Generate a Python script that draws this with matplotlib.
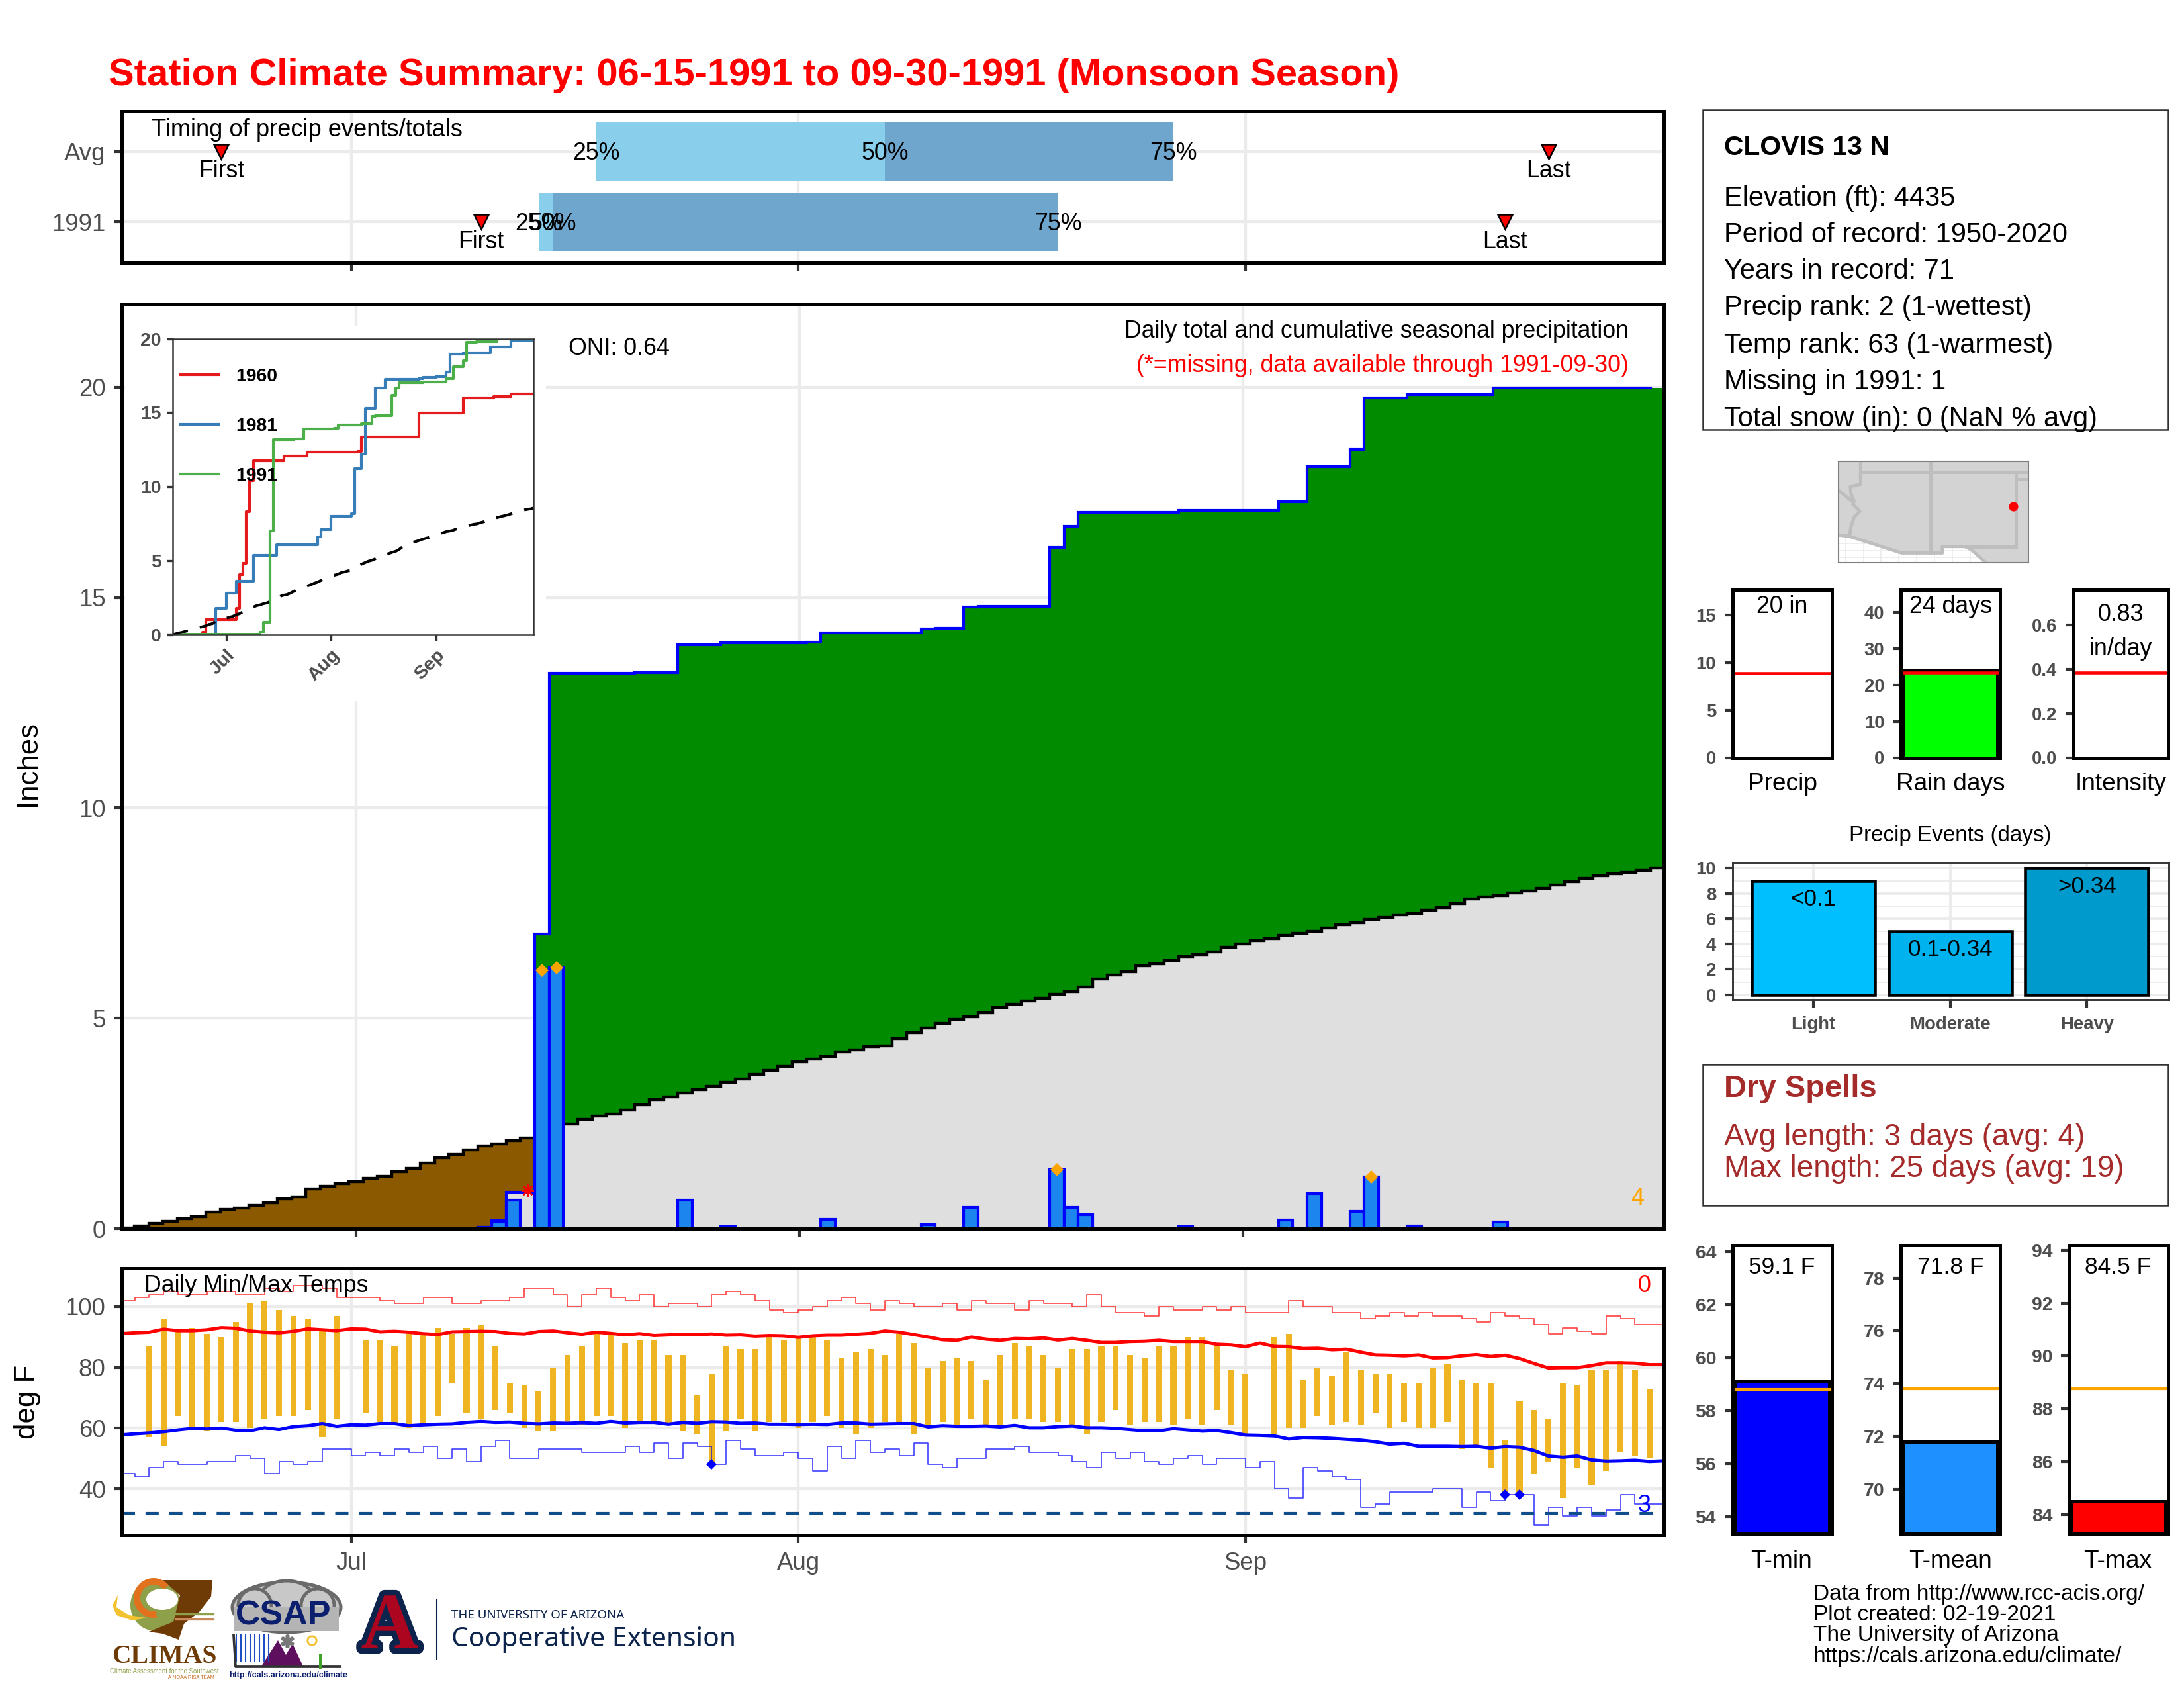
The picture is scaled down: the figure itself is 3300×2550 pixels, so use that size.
import numpy as np
import matplotlib
matplotlib.use('Agg')
from matplotlib import pyplot as plt
from matplotlib import patheffects as pe
from matplotlib.patches import Rectangle, Ellipse, Polygon, Wedge

W, H = 3300, 2550
plt.rcParams['font.family'] = ['Liberation Sans', 'DejaVu Sans']
plt.rcParams['xtick.color'] = '#333333'
plt.rcParams['ytick.color'] = '#333333'
plt.rcParams['xtick.labelcolor'] = '#4D4D4D'
plt.rcParams['ytick.labelcolor'] = '#4D4D4D'

nan = np.nan
# days are counted from Jun 15 = 0
month_ticks = [16, 47, 78]
month_labels = ['Jul', 'Aug', 'Sep']
days = np.arange(108)

avg_cum = [.01, .06, .13, .17, .24, .29, .39, .45, .49, .55, .61, .71, .76, .94, 1.0, 1.07, 1.12, 1.19, 1.25, 1.36,
           1.43, 1.56, 1.69, 1.76, 1.87, 1.97, 2.02, 2.10, 2.15, 2.25, 2.38, 2.49, 2.60, 2.68, 2.72, 2.82, 2.94, 3.07,
           3.13, 3.22, 3.30, 3.38, 3.48, 3.56, 3.67, 3.76, 3.86, 3.97, 4.03, 4.09, 4.20, 4.25, 4.32, 4.35, 4.51, 4.65,
           4.77, 4.87, 4.97, 5.03, 5.13, 5.26, 5.34, 5.41, 5.48, 5.57, 5.63, 5.75, 5.93, 6.02, 6.10, 6.25, 6.30, 6.37,
           6.46, 6.52, 6.58, 6.69, 6.76, 6.85, 6.89, 6.97, 7.01, 7.06, 7.15, 7.22, 7.27, 7.34, 7.40, 7.46, 7.49, 7.57,
           7.63, 7.72, 7.83, 7.89, 7.91, 7.98, 8.03, 8.09, 8.16, 8.24, 8.32, 8.38, 8.43, 8.47, 8.51, 8.58]
rain_days = [25, 26, 27, 29, 30, 36, 39, 42, 48, 49, 56, 57, 59, 60, 65, 66, 67, 74, 81, 83, 86, 87, 90, 96]
rain_vals = [.03, .16, .68, 6.13, 6.20, .01, .67, .04, .02, .22, .10, .01, .50, .02, 1.40, .50, .33, .05, .21, .83,
             .41, 1.23, .07, .16]
big_rain_days = [29, 30, 65, 87]
missing_day = 28

tmax = [nan, nan, 87, 96, 92, 93, 91, 90, 95, 101, 102, 99, 97, 96, 92, 97, nan,
        89, 89, 87, 91, 91, 93, 91, 93, 94, 87, 75, 74, 72, 80, 84, 87, 91, 91, 88, 89, 89, 84, 84, 71, 78,
        87, 86, 86, 90, 89, 90, 90, 89, 83, 85, 86, 84, 91, 88,
        80, 82, 83, 82, 76, 84, 88, 87, 84, 80, 86, 86, 87, 87, 84, 83, 87, 87, 90, 90, 87, 79, 78, nan,
        90, 91, 76, 80, 77, 85, 79, 78, 78, 75, 75, 80, 81, 76, 75, 75, 56, 69, 66, 63, 75, 74, 79, 79, 82, 79, 73, nan]
tmin = [nan, nan, 57, 54, 64, 60, 59, 62, 62, 60, 63, 64, 64, 66, 57, 63, nan,
        65, 62, 61, 60, 61, 64, 75, 65, 63, 66, 65, 60, 59, 59, 62, 61, 64, 64, 60, 62, 62, 61, 59, 58, 48,
        59, 63, 59, 62, 62, 60, 62, 64, 60, 58, 60, 62, 62, 58,
        61, 62, 61, 63, 61, 61, 63, 63, 62, 62, 61, 58, 62, 66, 61, 62, 62, 61, 63, 61, 66, 61, 58, nan,
        58, 60, 60, 64, 61, 62, 61, 65, 60, 62, 60, 60, 62, 53, 54, 47, 38, 38, 45, 49, 37, 47, 41, 46, 52, 51, 50, nan]
avg_hi = [91.1, 91.4, 91.6, 92.6, 92.1, 92.1, 92.4, 93.1, 92.9, 92.0, 91.6, 91.4, 91.9, 92.7, 92.4, 92.1, 92.7, 92.6,
          91.7, 91.9, 91.6, 91.1, 90.8, 91.7, 91.8, 91.9, 91.8, 91.2, 91.0, 91.8, 92.0, 91.4, 90.9, 91.6, 91.2, 90.7,
          91.1, 90.5, 90.7, 90.8, 90.8, 91.0, 90.6, 90.7, 90.3, 90.5, 90.4, 89.9, 90.4, 90.6, 90.6, 90.9, 91.2, 92.0,
          91.6, 90.8, 90.0, 89.1, 88.9, 90.0, 89.3, 88.9, 89.5, 89.4, 89.7, 89.0, 89.5, 88.9, 88.2, 88.2, 88.5, 88.6,
          88.9, 88.5, 88.5, 88.5, 87.6, 87.4, 86.8, 88.0, 86.9, 86.8, 86.2, 86.3, 85.8, 86.0, 85.0, 84.1, 84.0, 83.8,
          84.1, 83.1, 83.2, 83.8, 84.2, 83.6, 84.0, 82.9, 81.3, 79.8, 79.9, 79.9, 80.6, 81.5, 81.5, 81.4, 80.9, 80.9]
avg_lo = [57.7, 58.1, 58.4, 58.8, 59.4, 59.9, 59.7, 60.0, 59.3, 59.1, 60.1, 59.5, 60.5, 60.8, 61.5, 60.6, 61.1, 61.0,
          61.5, 61.5, 60.8, 61.1, 61.3, 61.4, 61.9, 62.2, 61.9, 62.0, 61.6, 61.4, 61.7, 61.6, 61.8, 61.6, 62.2, 61.7,
          61.9, 61.9, 61.3, 61.9, 61.6, 62.1, 62.0, 61.6, 61.7, 61.3, 61.3, 61.2, 61.3, 61.2, 61.7, 61.7, 61.3, 61.4,
          61.5, 61.5, 60.4, 60.8, 60.6, 60.6, 60.7, 60.4, 60.9, 60.1, 60.1, 60.5, 60.7, 60.1, 60.1, 59.9, 59.5, 59.1,
          59.1, 59.8, 59.4, 59.0, 59.2, 58.5, 57.7, 57.6, 57.4, 56.4, 56.9, 56.8, 56.6, 56.3, 56.0, 55.5, 54.7, 55.0,
          54.0, 54.0, 54.0, 53.9, 54.0, 53.4, 53.9, 53.7, 52.6, 50.8, 50.4, 50.8, 49.5, 49.1, 49.2, 49.4, 49.0, 49.2]
rec_hi = [102, 103, 104, 105, 104, 104, 105, 105, 104, 104, 106, 105, 107, 107, 106, 103, 103, 103, 102, 101, 101, 103,
          103, 101, 101, 102, 102, 103, 106, 106, 104, 100, 104, 106, 103, 102, 104, 100, 101, 101, 100, 104, 105, 104,
          102, 99, 98, 99, 100, 102, 103, 101, 99, 102, 101, 100, 100, 101, 99, 102, 101, 101, 99, 102, 101, 101, 100,
          104, 100, 98, 98, 97, 100, 99, 99, 100, 99, 100, 98, 98, 98, 102, 100, 100, 98, 98, 96, 97, 98, 97, 98, 97,
          97, 96, 95, 98, 97, 96, 94, 91, 93, 92, 91, 97, 96, 94, 94, 94]
rec_lo = [45, 44, 47, 49, 48, 48, 49, 49, 51, 50, 45, 49, 48, 49, 53, 53, 51, 52, 51, 53, 52, 54, 50, 53, 49, 54, 56,
          50, 50, 53, 53, 53, 52, 52, 52, 54, 52, 55, 50, 55, 54, 48, 56, 53, 51, 51, 52, 50, 46, 54, 50, 56, 52, 53,
          51, 55, 48, 47, 50, 50, 53, 53, 54, 52, 52, 51, 49, 47, 52, 50, 52, 49, 48, 50, 51, 48, 50, 50, 47, 49, 40,
          37, 47, 46, 44, 43, 34, 35, 39, 39, 39, 40, 40, 34, 39, 36, 38, 38, 28, 34, 31, 34, 31, 33, 38, 35, 35, 35]
record_low_days = [41, 96, 97]
freeze_line = 32

timing_rows = ['1991', 'Avg']
q25 = [29, 33]
q50 = [30, 53]
q75 = [65, 73]
first_day = [25, 7]
last_day = [96, 99]

y1960_days = [0, 8, 9, 10, 19, 20, 21, 22, 23, 24, 33, 40, 55, 56, 73, 86, 95, 100, 107]
y1960_vals = [0, 0, .2, 1.04, 1.8, 4.07, 4.84, 8.3, 10.4, 11.74, 12.06, 12.35, 12.4, 13.37, 14.96, 16, 16.08, 16.25, 16.25]
y1981_days = [0, 13, 16, 19, 24, 31, 43, 44, 47, 53, 54, 56, 57, 60, 63, 73, 74, 78, 81, 82, 86, 94, 100, 107]
y1981_vals = [0, 1.8, 2.8, 3.6, 5.35, 6.1, 6.6, 7.1, 8, 8.2, 11.2, 12.18, 15.3, 16.66, 17.26, 17.3, 17.38, 17.45, 17.75,
              18.96, 19.03, 19.44, 19.88, 19.88]

precip_label = ['Precip', 'Rain days', 'Intensity']
precip_text = ['20 in', '24 days', '0.83\nin/day']
precip_avg = [8.9, 23.4, 0.384]
rain_day_count = 24

event_names = ['Light', 'Moderate', 'Heavy']
event_counts = [9, 5, 10]
event_text = ['<0.1', '0.1-0.34', '>0.34']
event_colors = ['#00BFFF', '#00B2EE', '#009ACD']

temp_names = ['T-min', 'T-mean', 'T-max']
temp_vals = [59.1, 71.8, 84.5]
temp_avgs = [58.8, 73.8, 88.77]
temp_colors = ['#0000FF', '#1E90FF', '#FF0000']

station_lines = ['Elevation (ft): 4435', 'Period of record: 1950-2020', 'Years in record: 71',
                 'Precip rank: 2 (1-wettest)', 'Temp rank: 63 (1-warmest)', 'Missing in 1991: 1',
                 'Total snow (in): 0 (NaN % avg)']

# map outlines, lon/lat
land_lon = [-115.6, -114.73, -111.07, -108.2, -108.2, -106.53, -106.1, -105.2, -104.8, -102, -102, -115.6]
land_lat = [32.6, 32.5, 31.33, 31.33, 31.78, 31.78, 31.5, 30.7, 30.6, 30.6, 37.9, 37.9]
az_west_lon = [-113.95, -113.95, -114.67, -114.62, -114.4, -114.5, -114.0, -114.4, -114.62, -114.73]
az_west_lat = [37.9, 36.15, 36.0, 35.45, 34.95, 34.75, 34.25, 33.85, 33.2, 32.5]
nv_ca_lon = [-115.6, -114.6]
nv_ca_lat = [35.8, 35.0]
station_lon = -103.2
station_lat = 34.58

fig = plt.figure(figsize=(11, 8.5), dpi=300)


def panel(x0, y0, x1, y1):
    return fig.add_axes([x0 / W, 1 - y1 / H, (x1 - x0) / W, (y1 - y0) / H])


def frame(ax, lw=1.2, color='black'):
    for s in ax.spines.values():
        s.set_linewidth(lw)
        s.set_color(color)
        s.set_zorder(20)


def grid(ax):
    ax.grid(True, color='#EBEBEB', lw=1.05, zorder=0)
    ax.set_axisbelow(True)


# timing panel
ax = panel(184, 168, 2514, 397)
ax.set_xlim(0.1, 107)
ax.set_ylim(0.42, 2.57)
grid(ax)
frame(ax)
for i, y in enumerate([1, 2]):
    ax.barh(y, q50[i] - q25[i], left=q25[i], height=0.83, color='#89CFEB', zorder=2)
    ax.barh(y, q75[i] - q50[i], left=q50[i], height=0.83, color='#6FA6CD', zorder=2)
    for d, s in zip([q25[i], q50[i], q75[i]], ['25%', '50%', '75%']):
        ax.text(d, y - 0.03, s, ha='center', va='center', fontsize=8.6, zorder=4)
    for d, s in zip([first_day[i], last_day[i]], ['First', 'Last']):
        ax.plot(d, y, marker='v', ms=5.5, mfc='red', mec='black', mew=0.6, zorder=4)
        ax.text(d, y - 0.28, s, ha='center', va='center', fontsize=8.6, zorder=4)
ax.set_yticks([1, 2], timing_rows)
ax.set_xticks(month_ticks, [])
ax.tick_params(length=2.9, width=1, labelsize=8.8, pad=3)

# main precip panel
daily = np.zeros(108)
daily[rain_days] = rain_vals
cum = np.cumsum(daily)
avg = np.array(avg_cum)
edges = np.arange(109) - 0.5
xs = np.repeat(edges, 2)[1:-1]
ys_avg = np.repeat(avg, 2)
ys_cum = np.repeat(cum, 2)

ax = panel(184, 459, 2514, 1856)
ax.set_xlim(-0.38, 107.44)
ax.set_ylim(0, 21.98)
grid(ax)
frame(ax)
ax.fill_between(xs, 0, np.minimum(ys_avg, ys_cum), color='#DFDFDF', lw=0, zorder=1)
ax.fill_between(xs, ys_cum, ys_avg, where=ys_avg > ys_cum, color='#8B5A00', lw=0, zorder=1)
ax.fill_between(xs, ys_avg, ys_cum, where=ys_cum > ys_avg, color='#008B00', lw=0, zorder=1)
ax.plot(xs, ys_avg, color='black', lw=1.05, zorder=2, solid_joinstyle='miter')
ax.plot(xs[:-2], ys_cum[:-2], color='#0000FF', lw=1.0, zorder=3, solid_joinstyle='miter')
wet = daily >= 0.03
ax.bar(days[wet], daily[wet], width=1, color='#1C86EE', edgecolor='#0000FF', lw=1.0, zorder=4)
ax.plot(big_rain_days, daily[big_rain_days], ls='none', marker='D', ms=3.3, mfc='orange', mec='none', zorder=5)
ax.plot(missing_day, 0.92, ls='none', marker=(8, 2, 0), ms=4.5, mec='red', mew=0.6, zorder=5)
ax.set_xticks(month_ticks, [])
ax.set_yticks([0, 5, 10, 15, 20])
ax.tick_params(length=2.9, width=1, labelsize=8.8, pad=3)
main_ax = ax

# white block behind the inset
bg = panel(189, 492, 825, 1059)
bg.set_facecolor('white')
bg.set_xticks([])
bg.set_yticks([])
for s in bg.spines.values():
    s.set_visible(False)

# inset of wettest years
ax = panel(261, 511.5, 806, 959)
ax.set_xlim(0.26, 106.7)
ax.set_ylim(0, 20)
ax.step(y1960_days, y1960_vals, where='post', color='#E41A1C', lw=1.0, label='1960')
ax.step(y1981_days, y1981_vals, where='post', color='#377EB8', lw=1.0, label='1981')
ax.step(days, cum, where='post', color='#4DAF4A', lw=1.0, label='1991')
ax.plot(days, avg, color='black', lw=1.0, dashes=(6, 4.5))
frame(ax, 0.6, '#333333')
ax.set_xticks(month_ticks, month_labels, rotation=45, ha='right', rotation_mode='anchor')
ax.set_yticks([0, 5, 10, 15, 20])
ax.tick_params(length=2.2, width=0.8, labelsize=6.8, pad=2)
for t in ax.get_xticklabels() + ax.get_yticklabels():
    t.set_fontweight('bold')
ax.legend(loc='upper left', bbox_to_anchor=(0.022, 0.9), frameon=False, borderpad=0, borderaxespad=0,
          handlelength=2, handletextpad=0.95, labelspacing=1.72, prop={'size': 6.8, 'weight': 'bold'})

# daily temperatures
ax = panel(184, 1916, 2514, 2319)
ax.set_xlim(0.1, 107)
ax.set_ylim(24.74, 112.64)
grid(ax)
frame(ax)
hi = np.array(tmax)
lo = np.array(tmin)
ax.bar(days, hi - lo, bottom=lo, width=0.42, color='#EEB422', zorder=2)
ax.step(np.arange(109), rec_hi + rec_hi[-1:], where='post', color='#FF0000', lw=0.4, alpha=0.75, zorder=3)
ax.step(np.arange(109), rec_lo + rec_lo[-1:], where='post', color='#0000FF', lw=0.4, alpha=0.75, zorder=3)
ax.plot(days, avg_hi, color='#FF0000', lw=1.2, zorder=4)
ax.plot(days, avg_lo, color='#0000FF', lw=1.2, zorder=4)
ax.axhline(freeze_line, color='#104E8B', lw=1.0, dashes=(4.8, 3.8), zorder=3)
ax.plot(record_low_days, lo[record_low_days], ls='none', marker='D', ms=2.8, mfc='#0000FF', mec='none', zorder=5)
ax.set_xticks(month_ticks, month_labels)
ax.set_yticks([40, 60, 80, 100])
ax.tick_params(length=2.9, width=1, labelsize=8.8, pad=3)

# station map
ax = panel(2778, 697, 3065, 850)
ax.set_xlim(-115.5, -102.15)
ax.set_ylim(30.65, 37.76)
ax.grid(True, color='#EBEBEB', lw=0.4, zorder=0)
ax.set_axisbelow(True)
ax.set_xticks(np.arange(-115, -102, 1.25), [])
ax.set_yticks([31, 31.5, 32, 32.5], [])
ax.tick_params(length=0)
ax.fill(land_lon, land_lat, color='#D3D3D3', lw=0, zorder=1)
for lons, lats in [(land_lon[:8], land_lat[:8]), (az_west_lon, az_west_lat), (nv_ca_lon, nv_ca_lat),
                   ([-113.95, -102], [37, 37]), ([-109.05, -109.05], [37.9, 31.33]),
                   ([-103.04, -103.04], [37, 31.78]), ([-106.53, -103.04], [31.78, 31.78]),
                   ([-103.04, -102], [36.5, 36.5])]:
    ax.plot(lons, lats, color='#BEBEBE', lw=1.2, zorder=2)
ax.plot(station_lon, station_lat, 'o', color='red', ms=3.4, mew=0, zorder=3)
frame(ax, 0.5, '#7F7F7F')

# precip bars
boxes = [(2617.6, 2768), (2872, 3022), (3133, 3276)]
tops = [17.66, 46.3, 0.76]
yticks = [[0, 5, 10, 15], [0, 10, 20, 30, 40], [0, 0.2, 0.4, 0.6]]
ticklabels = [['0', '5', '10', '15'], ['0', '10', '20', '30', '40'], ['0.0', '0.2', '0.4', '0.6']]
for i in range(3):
    ax = panel(boxes[i][0], 891, boxes[i][1], 1144.5)
    ax.set_xlim(0.5, 1.5)
    ax.set_ylim(0, tops[i])
    frame(ax)
    if i == 1:
        ax.bar(1, rain_day_count, width=0.95, color='#00FF00', edgecolor='black', lw=1.2, zorder=2)
    ax.axhline(precip_avg[i], color='red', lw=1.1, zorder=3)
    ax.set_xticks([])
    ax.set_yticks(yticks[i], ticklabels[i])
    ax.tick_params(length=2.9, width=1, labelsize=6.6, pad=3)
    for t in ax.get_yticklabels():
        t.set_fontweight('bold')

# event bars
ax = panel(2617.6, 1303, 3277, 1510)
ax.set_xlim(0.406, 3.6)
ax.set_ylim(-0.38, 10.44)
ax.set_yticks([1, 3, 5, 7, 9], minor=True)
ax.grid(True, which='major', color='#EBEBEB', lw=0.9, zorder=0)
ax.grid(True, which='minor', axis='y', color='#EBEBEB', lw=0.45, zorder=0)
ax.set_axisbelow(True)
ax.bar([1, 2, 3], event_counts, width=0.9, color=event_colors, edgecolor='black', lw=1.1, zorder=2)
ax.set_xticks([1, 2, 3], event_names)
ax.set_yticks([0, 2, 4, 6, 8, 10])
ax.tick_params(which='major', length=2.9, width=1, labelsize=6.6, pad=3)
ax.tick_params(which='minor', length=0)
for t in ax.get_xticklabels() + ax.get_yticklabels():
    t.set_fontweight('bold')
frame(ax, 0.7, '#333333')
for i in range(3):
    ax.text(i + 1, event_counts[i] - 1.45, event_text[i], ha='center', va='center', fontsize=8.4, zorder=4)

# temperature bars
boxes = [(2617.6, 2768), (2872, 3022), (3126, 3276)]
lims = [(53.35, 64.25), (68.32, 79.24), (83.28, 94.19)]
for i in range(3):
    ax = panel(boxes[i][0], 1881, boxes[i][1], 2317)
    ax.set_xlim(0.5, 1.5)
    ax.set_ylim(lims[i])
    frame(ax)
    ax.bar(1, temp_vals[i] - lims[i][0], bottom=lims[i][0], width=0.95, color=temp_colors[i], edgecolor='black',
           lw=1.2, zorder=2)
    ax.axhline(temp_avgs[i], color='orange', lw=1.0, zorder=3)
    ax.set_xticks([])
    ax.set_yticks(np.arange(np.ceil(lims[i][0] / 2) * 2, lims[i][1], 2).astype(int))
    ax.tick_params(length=2.9, width=1, labelsize=6.8, pad=3)
    for t in ax.get_yticklabels():
        t.set_fontweight('bold')

# overlay in pixel coords for the loose text and the logos
ov = fig.add_axes([0, 0, 1, 1], zorder=30)
ov.set_xlim(0, W)
ov.set_ylim(H, 0)
ov.axis('off')


def put(x, y, s, size, ha='left', color='black', weight='normal', **kw):
    return ov.text(x, y + 4, s, fontsize=size, ha=ha, va='center', color=color, fontweight=weight, **kw)


put(164, 110, 'Station Climate Summary: 06-15-1991 to 09-30-1991 (Monsoon Season)', 13.9, color='#FF0000', weight='bold')
put(229, 193, 'Timing of precip events/totals', 8.7)
put(859, 522, 'ONI: 0.64', 8.6)
put(2461, 497, 'Daily total and cumulative seasonal precipitation', 8.6, ha='right')
put(2461, 549, '(*=missing, data available through 1991-09-30)', 8.6, ha='right', color='#FF0000')
put(2474, 1806, '4', 8.6, ha='center', color='orange')
put(218, 1939, 'Daily Min/Max Temps', 8.6)
put(2485, 1939, '0', 8.6, ha='center', color='#FF0000')
put(2485, 2270, '3', 8.6, ha='center', color='#0000FF')
put(42, 1150, 'Inches', 10.5, ha='center', rotation=90)
put(42, 2114, 'deg F', 10.5, ha='center', rotation=90)

# station box
ov.add_patch(Rectangle((2573, 166), 703, 483, fill=False, ec='#333333', lw=0.6))
put(2605, 219, 'CLOVIS 13 N', 9.8, weight='bold')
for y, s in zip([296, 351, 406, 461, 518, 573, 629], station_lines):
    put(2605, y, s, 10.0)

# labels round the small bars
for x, s in zip([2693, 2947, 3205], precip_label):
    put(x, 1180, s, 8.9, ha='center')
put(2693, 913, precip_text[0], 8.6, ha='center')
put(2947, 913, precip_text[1], 8.6, ha='center')
put(3204, 925, '0.83', 8.6, ha='center')
put(3204, 977, 'in/day', 8.6, ha='center')
put(2947, 1259, 'Precip Events (days)', 7.95, ha='center')

# dry spells box
ov.add_patch(Rectangle((2573, 1608), 703, 213, fill=False, ec='#333333', lw=0.6))
put(2605, 1641, 'Dry Spells', 11.3, color='#A52A2A', weight='bold')
put(2605, 1714, 'Avg length: 3 days (avg: 4)', 11, color='#A52A2A')
put(2605, 1762, 'Max length: 25 days (avg: 19)', 11, color='#A52A2A')

for x, v in zip([2692, 2947, 3200], temp_vals):
    put(x, 1910, '%.1f F' % v, 8.5, ha='center')
for x, s in zip([2692, 2947, 3200], temp_names):
    put(x, 2355, s, 8.9, ha='center')
for y, s in zip([2404, 2435, 2466, 2498], ['Data from http://www.rcc-acis.org/', 'Plot created: 02-19-2021',
                                           'The University of Arizona', 'https://cals.arizona.edu/climate/']):
    put(2740, y, s, 8.0)

# CLIMAS logo
ov.add_patch(Ellipse((235, 2425), 76, 78, color='#8FA04A', lw=0))
ov.add_patch(Polygon([(246, 2387), (321, 2387), (319, 2412), (301, 2435), (278, 2453), (270, 2477), (246, 2468),
                      (225, 2465), (262, 2450), (272, 2410)], color='#6E3B07', lw=0))
ov.add_patch(Wedge((232, 2414), 30, 80, 320, width=10, color='#E2711D', lw=0))
ov.add_patch(Ellipse((245, 2416), 48, 32, color='white', lw=0))
ov.add_patch(Polygon([(178, 2410), (176, 2428), (195, 2440), (222, 2444), (200, 2448), (176, 2440), (170, 2425)],
                     color='#F2C230', lw=0))
ov.plot([265, 322], [2438, 2438], color='#8FA04A', lw=0.8)
ov.plot([265, 322], [2446, 2446], color='#C98A5B', lw=0.8)
put(248, 2498, 'CLIMAS', 9.5, ha='center', color='#6E3B07', family='Liberation Serif', weight='bold')
put(248, 2521, 'Climate Assessment for the Southwest', 2.3, ha='center', color='#8FA04A')
put(324, 2530, 'A NOAA RISA TEAM', 1.8, ha='right', color='#C86A1B')

# CSAP logo
for xc, yc, w, h in [(433, 2428, 164, 76), (433, 2412, 78, 48), (385, 2425, 50, 50), (480, 2425, 50, 50)]:
    ov.add_patch(Ellipse((xc, yc), w, h, fc='#C8C8C8', ec='#6A6A6A', lw=1.2))
ov.add_patch(Rectangle((354, 2428), 158, 36, fc='#B4B4B4', ec='none'))
put(428, 2437, 'CSAP', 12.5, ha='center', color='#0C1E6E', weight='bold')
for xl in [357, 364, 371, 378, 385, 392, 399, 406]:
    ov.plot([xl, xl], [2470, 2510], color='#1C4FC4', lw=0.5)
ov.plot([353, 356, 514], [2470, 2518, 2518], color='#333333', lw=0.9)
ov.add_patch(Polygon([(395, 2517), (420, 2478), (432, 2500), (442, 2483), (458, 2517)], color='#5E0F5E', lw=0))
ov.plot(434, 2479, marker='$*$', ms=4, color='#777777', ls='none')
ov.plot([484, 484], [2500, 2518], color='#3FA32B', lw=1.2)
ov.plot(471, 2478, marker='o', ms=3.2, mfc='none', mec='#F2C230', mew=0.7)
put(436, 2527, 'http://cals.arizona.edu/climate', 3.0, ha='center', color='#0C1E6E', weight='bold')

# university mark
put(589, 2457, 'A', 29, ha='center', color='#AB0520', weight='bold', family='Liberation Serif',
    path_effects=[pe.withStroke(linewidth=2.5, foreground='white'), pe.withStroke(linewidth=4, foreground='#0C234B')])
ov.plot([660, 660], [2416, 2506], color='#0C234B', lw=0.5)
put(682, 2436, 'THE UNIVERSITY OF ARIZONA', 4.5, color='#0C234B', family='Noto Sans')
put(682, 2473, 'Cooperative Extension', 9.8, color='#0C234B', family='Noto Sans')

fig.savefig('out.png', dpi=300)
